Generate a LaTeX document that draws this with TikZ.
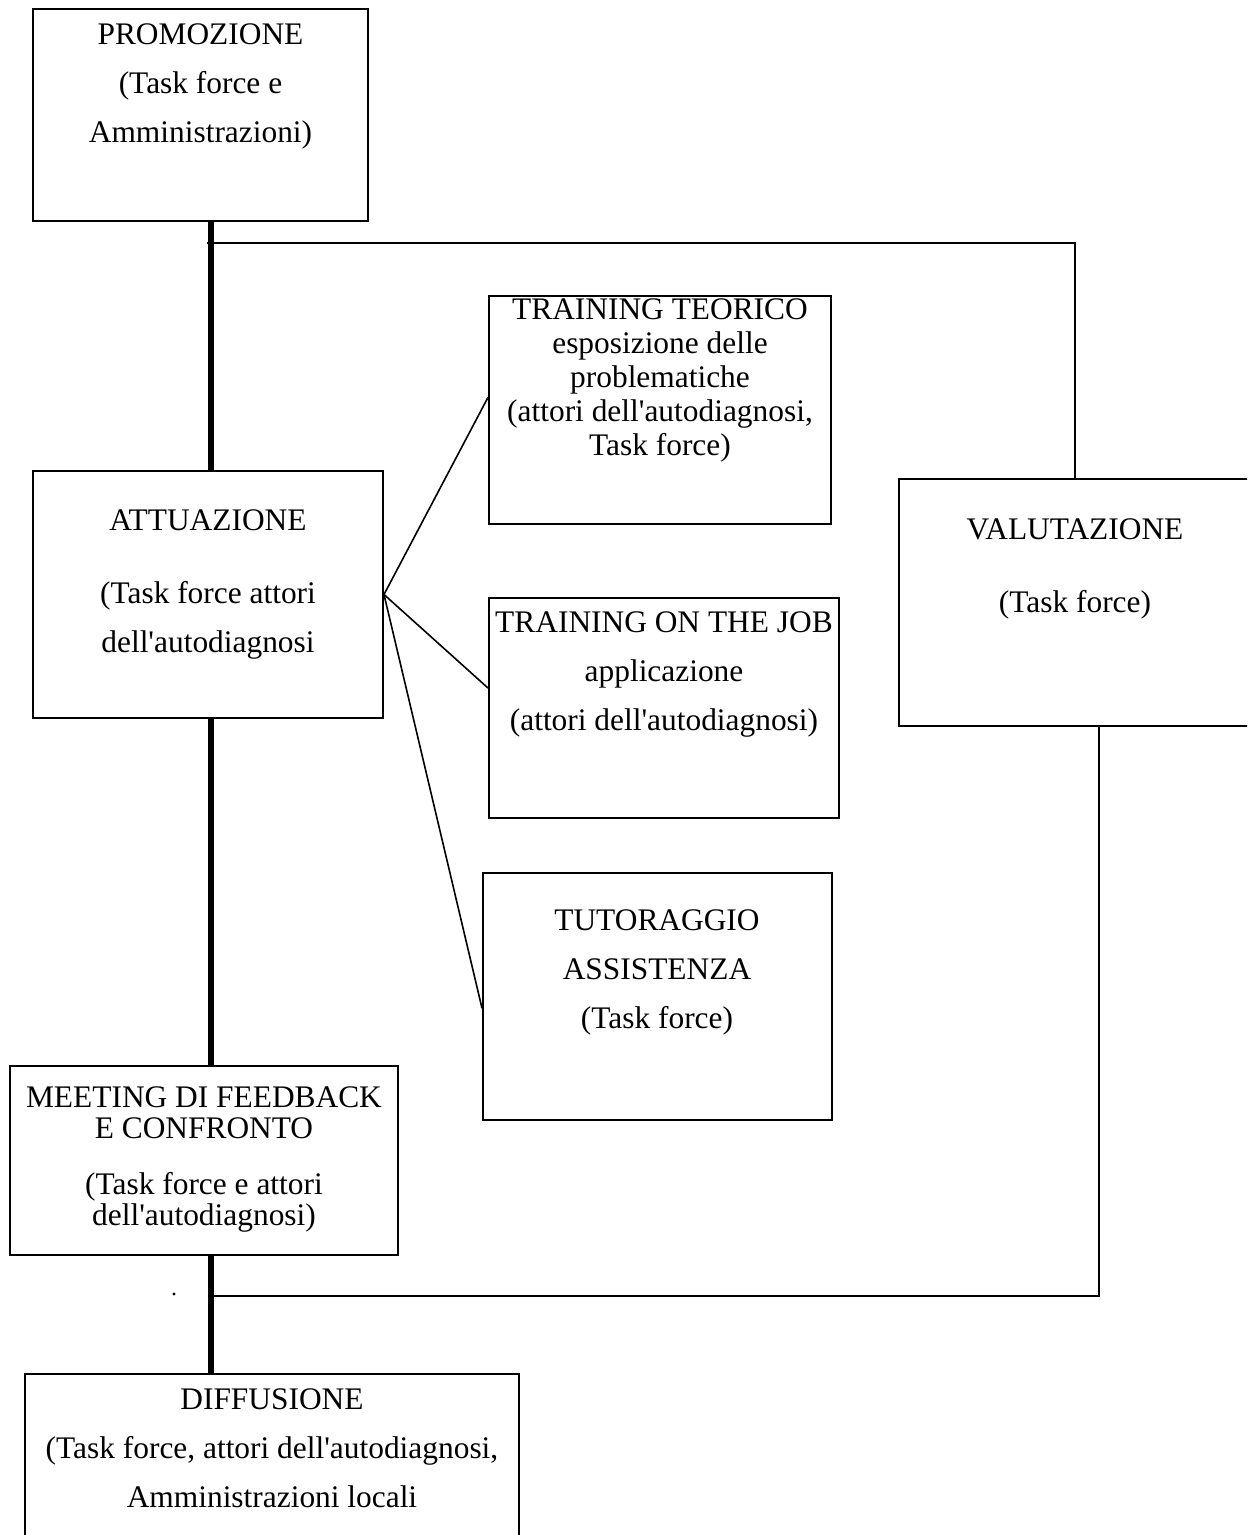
\documentclass[tikz,border=0pt]{standalone}
\usepackage{fontspec}
\setmainfont{Liberation Serif}
\usetikzlibrary{calc,fit,positioning}

\newcommand{\ap}{\textquotesingle}
\tikzset{
  box/.style={draw, line width=1pt, inner sep=0pt},
  boxtext/.style={align=center, inner sep=0pt, anchor=base, font=\fontsize{15.7}{24.5}\selectfont},
  tighttext/.style={boxtext, font=\fontsize{15.7}{17}\selectfont},
  spine/.style={line width=2.6pt},
  link/.style={line width=0.8pt},
}

\begin{document}
\begin{tikzpicture}[x=0.5pt,y=-0.5pt]
  \clip (0,0) rectangle (1247,1535);
  % phases on the left
  \node[box, fit={(33,9) (368,221)}] (promo) {};
  \node[box, fit={(33,471) (383,718)}] (attu) {};
  \node[box, fit={(10,1066) (398,1255)}] (meet) {};
  \node[box, fit={(25,1374) (519,1560)}] (diff) {};
  % training blocks
  \node[box, fit={(489,296) (831,524)}] (teo) {};
  \node[box, fit={(489,598) (839,818)}] (job) {};
  \node[box, fit={(483,873) (832,1120)}] (tut) {};
  % evaluation
  \node[box, fit={(899,479) (1251,726)}] (val) {};

  % texts sit on the baseline of their last line
  \node[boxtext] (promo-t) at (200.5,143) {PROMOZIONE\\(Task force e\\Amministrazioni)};
  \node[boxtext] (attu-t) at (208,652) {ATTUAZIONE\\[12pt](Task force attori\\dell\ap autodiagnosi};
  \node[tighttext] (teo-t) at (660,455) {TRAINING TEORICO\\esposizione delle\\problematiche\\(attori dell\ap autodiagnosi,\\Task force)};
  \node[boxtext] (job-t) at (664,730) {TRAINING ON THE JOB\\applicazione\\(attori dell\ap autodiagnosi)};
  \node[boxtext] (tut-t) at (657,1028) {TUTORAGGIO\\ASSISTENZA\\(Task force)};
  \node[boxtext] (val-t) at (1075,612) {VALUTAZIONE\\[12pt](Task force)};
  \node[boxtext, font=\fontsize{15.7}{15.5}\selectfont] (meet-t) at (204,1225) {MEETING DI FEEDBACK\\E CONFRONTO\\[12.5pt](Task force e attori\\dell\ap autodiagnosi)};
  \node[boxtext] (diff-t) at (272,1507) {DIFFUSIONE\\(Task force, attori dell\ap autodiagnosi,\\Amministrazioni locali};

  % thick spine
  \coordinate (spx) at (211,0);
  \draw[spine] (promo.south -| spx) -- (attu.north -| spx);
  \draw[spine] (attu.south -| spx) -- (meet.north -| spx);
  \draw[spine] (meet.south -| spx) -- (diff.north -| spx);

  % fan to the training blocks
  \foreach \b/\t in {teo/0.445,job/0.41,tut/0.547} {\draw[link] (attu.east) -- ($(\b.north west)!\t!(\b.south west)$);}

  % loop through the evaluation
  \coordinate (loopin) at (207,243);
  \coordinate (loopout) at (213,1296);
  \draw[link] (loopin) -| (val.north);
  \draw[link] ([xshift=12pt]val.south) |- (loopout);
  \fill (174,1294) circle (1.6);
\end{tikzpicture}
\end{document}
